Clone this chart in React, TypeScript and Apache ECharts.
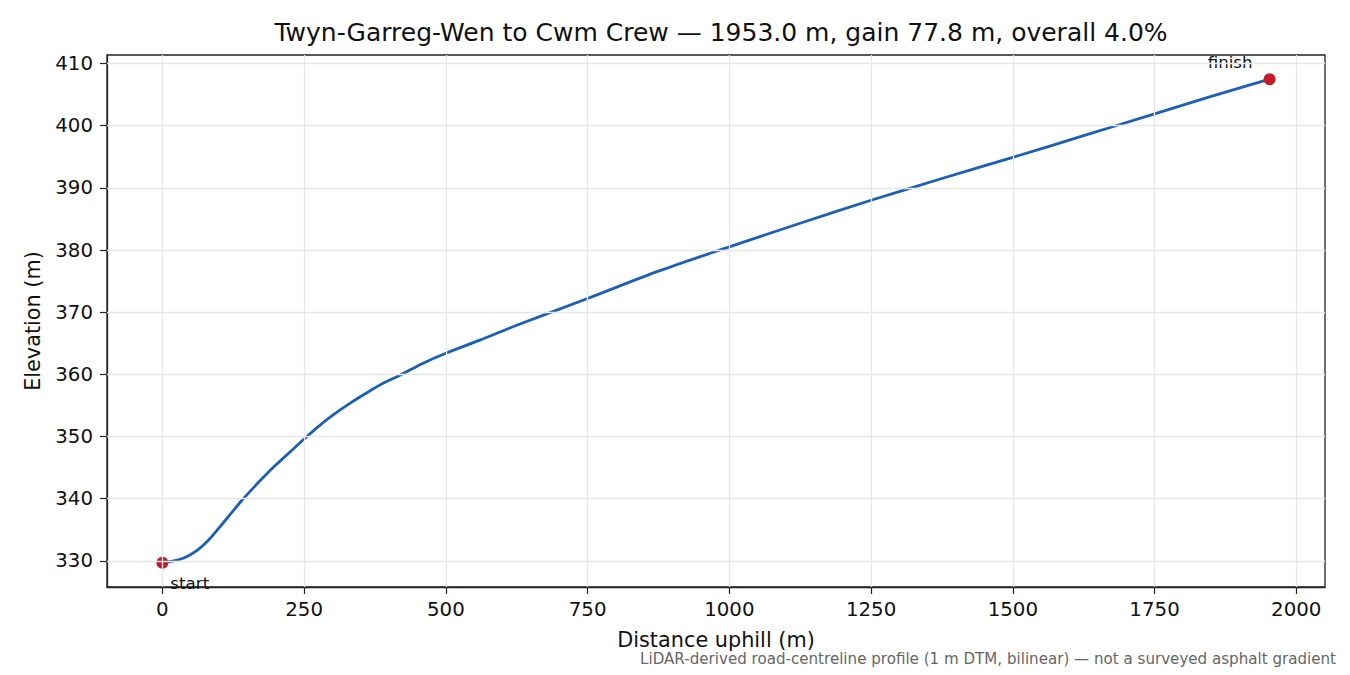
import React, { useEffect, useRef } from 'react'
import * as echarts from 'echarts'

// profile (distance in m, elevation in m)
const distance = [0, 20, 40, 60, 80, 100, 120, 140, 160, 180, 200, 225, 250, 275, 300, 330, 360, 390, 420, 460, 500, 560, 625, 750, 875, 1000, 1125, 1250, 1375, 1500, 1625, 1750, 1850, 1953]
const elevation = [329.68, 329.98, 330.55, 331.6, 333.2, 335.3, 337.5, 339.7, 341.7, 343.6, 345.4, 347.5, 349.6, 351.6, 353.4, 355.3, 357.0, 358.6, 359.9, 361.8, 363.4, 365.5, 367.9, 372.2, 376.6, 380.5, 384.3, 388.0, 391.5, 394.9, 398.4, 401.9, 404.7, 407.48]

const xTicks = [0, 250, 500, 750, 1000, 1250, 1500, 1750, 2000]
const yTicks = [330, 340, 350, 360, 370, 380, 390, 400, 410]

const endLabels = ['start', 'finish']

const FONT = 'DejaVu Sans'

export default function App(): JSX.Element {
  const chartRef = useRef<HTMLDivElement>(null)

  useEffect(() => {
    if (!chartRef.current) return
    const chart = echarts.init(chartRef.current, undefined, { renderer: 'svg' })

    const profile = distance.map((d, i) => [d, elevation[i]])
    const last = distance.length - 1
    const ends = [
      {
        value: [distance[0], elevation[0]],
        label: { formatter: endLabels[0], position: [14, 26], align: 'left', verticalAlign: 'middle' }
      },
      {
        value: [distance[last], elevation[last]],
        label: { formatter: endLabels[1], position: [-11, -11], align: 'right', verticalAlign: 'middle' }
      }
    ]

    // matplotlib-style 5% margins
    const gain = elevation[last] - elevation[0]
    const xmin = -0.05 * distance[last]
    const xmax = distance[last] * 1.05
    const ymin = elevation[0] - 0.05 * gain
    const ymax = elevation[last] + 0.05 * gain

    chart.setOption({
      animation: false,
      textStyle: { fontFamily: FONT },
      title: {
        text: 'Twyn-Garreg-Wen to Cwm Crew — 1953.0 m, gain 77.8 m, overall 4.0%',
        left: 716,
        top: 15,
        textAlign: 'center',
        textStyle: { fontFamily: FONT, fontSize: 25, fontWeight: 'normal', color: '#111' }
      },
      grid: {
        left: 107, right: 25, top: 55, bottom: 88,
        show: true, borderColor: '#222', borderWidth: 1.3, backgroundColor: 'transparent'
      },
      xAxis: {
        type: 'value',
        min: xmin,
        max: xmax,
        name: 'Distance uphill (m)',
        nameLocation: 'middle',
        nameGap: 42,
        nameTextStyle: { fontFamily: FONT, fontSize: 20.8, color: '#111' },
        axisLine: { show: true, onZero: false, lineStyle: { color: '#222', width: 1.3 } },
        axisTick: { show: true, length: 7, customValues: xTicks, lineStyle: { color: '#222', width: 1.2 } },
        axisLabel: {
          customValues: xTicks,
          formatter: (v: number) => String(v),
          margin: 12,
          fontFamily: FONT,
          fontSize: 19.8,
          color: '#111'
        },
        splitLine: { show: false }
      },
      yAxis: {
        type: 'value',
        min: ymin,
        max: ymax,
        name: 'Elevation (m)',
        nameLocation: 'middle',
        nameGap: 64,
        nameTextStyle: { fontFamily: FONT, fontSize: 20.8, color: '#111' },
        axisLine: { show: true, onZero: false, lineStyle: { color: '#222', width: 1.3 } },
        axisTick: { show: true, length: 7, customValues: yTicks, lineStyle: { color: '#222', width: 1.2 } },
        axisLabel: {
          customValues: yTicks,
          formatter: (v: number) => String(v),
          margin: 14,
          fontFamily: FONT,
          fontSize: 19.8,
          color: '#111'
        },
        splitLine: { show: false }
      },
      graphic: [
        {
          type: 'text',
          right: 14,
          top: 651,
          style: {
            text: 'LiDAR-derived road-centreline profile (1 m DTM, bilinear) — not a surveyed asphalt gradient',
            fontFamily: FONT,
            fontSize: 15.1,
            fill: '#666'
          }
        }
      ],
      series: [
        {
          name: 'grid',
          type: 'line',
          data: [],
          z: 1,
          silent: true,
          markLine: {
            silent: true,
            symbol: ['none', 'none'],
            label: { show: false },
            lineStyle: { color: '#e6e6e6', width: 1.3, type: 'solid' },
            data: [
              ...xTicks.map((v) => ({ xAxis: v })),
              ...yTicks.map((v) => ({ yAxis: v }))
            ]
          }
        },
        {
          name: 'profile',
          type: 'line',
          data: profile,
          z: 3,
          smooth: 0.3,
          showSymbol: false,
          lineStyle: { color: '#1c5fb5', width: 2.8 }
        },
        {
          name: 'ends',
          type: 'scatter',
          data: ends,
          z: 4,
          symbolSize: 12,
          itemStyle: { color: '#c21b2b', opacity: 1 },
          label: { show: true, fontFamily: FONT, fontSize: 16.7, color: '#111', opacity: 1 }
        }
      ]
    })

    return () => {
      chart.dispose()
    }
  }, [])

  return (
    <div
      ref={chartRef}
      style={{ position: 'fixed', left: 0, top: 0, width: 1350, height: 675, background: '#fff' }}
    />
  )
}
